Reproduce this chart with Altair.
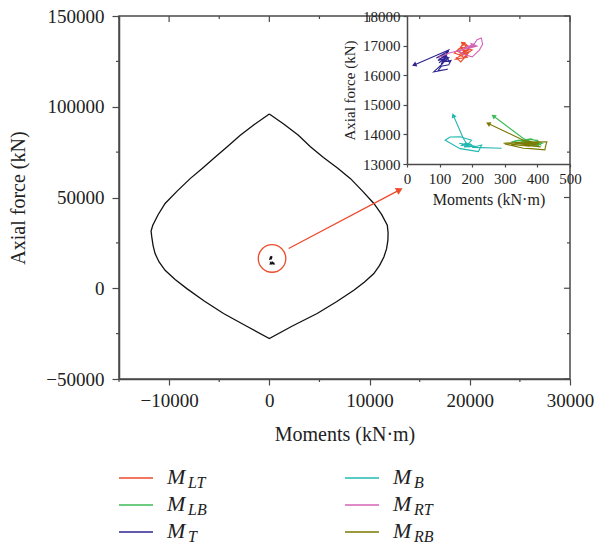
import math
import altair as alt
import pandas as pd

# ---------------- data ----------------
series = ["M_LT", "M_LB", "M_T", "M_B", "M_RT", "M_RB"]
subs = ["LT", "LB", "T", "B", "RT", "RB"]
colors = ["#EE4A2C", "#3DBB55", "#2E2590", "#22B8B0", "#D464B8", "#7B7900"]

# interaction envelope (kN·m, kN)
env_x = [0, -1500, -2900, -4200, -5450, -6700, -7900, -9200, -10400, -11100, -11630, -11800,
         -11730, -11600, -11400, -11000, -10400, -9400, -8230, -6500, -4570, -2300, 0,
         2300, 4770, 6700, 8430, 9500, 10430, 11000, 11430, 11700, 11830, 11850, 11770,
         11200, 10430, 9300, 8100, 6800, 5400, 4100, 2900, 1500, 0]
env_y = [96000, 90200, 84300, 78000, 72000, 66000, 60400, 53500, 46700, 40500, 34700, 31500,
         28300, 23500, 19100, 14500, 9900, 4800, -200, -7000, -13900, -20800, -27700,
         -20800, -13900, -7400, -1100, 3500, 8100, 12600, 17200, 21800, 26400, 30500, 34700,
         40700, 46700, 53500, 60400, 66200, 72000, 78000, 84300, 90200, 96000]

# load paths (Moment kN·m, Axial kN)
MLT_x = [150, 165, 185, 172, 195, 160, 145, 170, 190, 175, 155, 180, 200, 165, 185, 150,
         178, 192, 160, 175, 188, 168, 182, 170]
MLT_y = [16600, 16450, 16700, 16850, 16800, 16900, 16750, 16650, 16950, 17100, 16800, 16700,
         16850, 16950, 16600, 16550, 16780, 16900, 16700, 16600, 16750, 16880, 16980, 17080]
MLB_x = [330, 370, 400, 410, 360, 320, 380, 415, 390, 350, 400, 372, 395, 340, 385, 405,
         365, 390, 357, 265]
MLB_y = [13780, 13830, 13800, 13650, 13700, 13750, 13850, 13700, 13600, 13780, 13720, 13760,
         13680, 13800, 13740, 13620, 13790, 13700, 13862, 14620]
MT_x = [120, 112, 135, 128, 105, 95, 125, 82, 110, 120, 100, 130, 118, 90, 128, 108, 115,
        98, 125, 112, 105, 130, 95, 118, 128, 22]
MT_y = [16600, 16450, 16500, 16350, 16300, 16150, 16200, 16110, 16400, 16650, 16550, 16450,
        16700, 16580, 16820, 16480, 16560, 16420, 16620, 16520, 16380, 16600, 16500, 16680,
        16850, 16346]
MB_x = [290, 200, 229, 219, 163, 117, 132, 163, 198, 185, 160, 210, 175, 195, 165, 180, 188,
        170, 200, 178, 192, 168, 185, 173, 142]
MB_y = [13530, 13560, 13640, 13420, 13520, 13800, 13910, 13920, 13800, 13650, 13700, 13600,
        13580, 13680, 13620, 13700, 13600, 13660, 13640, 13720, 13570, 13680, 13650, 13862,
        14644]
MRT_x = [96, 130, 165, 200, 215, 228, 232, 222, 200, 175, 160, 185, 205, 190, 210, 180, 200,
         195, 215, 188, 205, 198]
MRT_y = [16600, 16750, 16850, 16950, 17200, 17260, 17050, 16850, 16620, 16700, 16800, 16950,
         17050, 16900, 17000, 16950, 17020, 17080, 16980, 16900, 17060, 16980]
MRB_x = [296, 360, 429, 425, 423, 380, 357, 300, 340, 400, 380, 330, 410, 360, 395, 320, 375,
         405, 357, 249]
MRB_y = [13700, 13740, 13750, 13600, 13480, 13520, 13530, 13680, 13720, 13650, 13760, 13700,
         13580, 13640, 13720, 13660, 13600, 13700, 13805, 14366]

paths_x = [MLT_x, MLB_x, MT_x, MB_x, MRT_x, MRB_x]
paths_y = [MLT_y, MLB_y, MT_y, MB_y, MRT_y, MRB_y]
arrow_series = ["M_LT", "M_LB", "M_T", "M_B", "M_RB"]

# main-plot annotation
circle_x, circle_y = [270], [16400]
arrow_x0, arrow_y0, arrow_x1, arrow_y1 = 1930, 21900, 13000, 54200

main_x_major = [-10000, 0, 10000, 20000, 30000]
main_x_minor = [-15000, -5000, 5000, 15000, 25000]
main_y_major = [-50000, 0, 50000, 100000, 150000]
main_y_minor = [-25000, 25000, 75000, 125000]
inset_x_ticks = [0, 100, 200, 300, 400, 500]
inset_y_ticks = [13000, 14000, 15000, 16000, 17000, 18000]

# ---------------- layout constants ----------------
W, H = 451, 363
IX0, IX1, IY0, IY1 = 288, 451, 148, 0
FONT = "Liberation Serif"
FRAME = "#4a4a4a"
M_SX, M_SY = W / 45000, H / 200000
I_SX, I_SY = (IX1 - IX0) / 500, (IY0 - IY1) / 5000


def head_angle(x0, y0, x1, y1, sx, sy):
    dx = (x1 - x0) * sx
    dy = -(y1 - y0) * sy
    return math.degrees(math.atan2(dx, -dy)) % 360


rows = []
heads = []
for s, xs, ys in zip(series, paths_x, paths_y):
    for i, (a, b) in enumerate(zip(xs, ys)):
        rows.append({"series": s, "x": a, "y": b, "i": i})
    if s in arrow_series:
        heads.append({"series": s, "x": xs[-1], "y": ys[-1],
                      "ang": head_angle(xs[-2], ys[-2], xs[-1], ys[-1], I_SX, I_SY)})
paths = pd.DataFrame(rows)
heads = pd.DataFrame(heads)
env = pd.DataFrame({"x": env_x, "y": env_y, "o": list(range(len(env_x)))})

color_scale = alt.Scale(domain=series, range=colors)

# ---------------- main plot ----------------
mx = alt.Scale(domain=[-15000, 30000], nice=False, zero=False)
my = alt.Scale(domain=[-50000, 150000], nice=False, zero=False)
x_axis = alt.Axis(values=main_x_major, format="d", title="Moments (kN·m)", tickSize=6,
                  labelPadding=6, labelFontSize=19, titleFontSize=20, titlePadding=14,
                  labelFlush=False)
y_axis = alt.Axis(values=main_y_major, format="d", title="Axial force (kN)", tickSize=7,
                  labelPadding=8, labelFontSize=19, titleFontSize=20, titlePadding=17)

envelope = alt.Chart(env).mark_line(color="#111111", strokeWidth=1.3).encode(
    x=alt.X("x:Q", scale=mx, axis=x_axis),
    y=alt.Y("y:Q", scale=my, axis=y_axis),
    order="o:Q",
)
dots = alt.Chart(paths).mark_line(color="#111111", strokeWidth=1.3).encode(
    x=alt.X("x:Q", scale=mx), y=alt.Y("y:Q", scale=my), detail="series:N", order="i:Q"
)
circle = alt.Chart(pd.DataFrame({"x": circle_x, "y": circle_y})).mark_point(
    shape="circle", size=760, filled=False, color="#EE4A2C", strokeWidth=1.3, opacity=1
).encode(x=alt.X("x:Q", scale=mx), y=alt.Y("y:Q", scale=my))
arrow_df = pd.DataFrame({"x": [arrow_x0], "y": [arrow_y0], "x2": [arrow_x1], "y2": [arrow_y1],
                         "ang": [head_angle(arrow_x0, arrow_y0, arrow_x1, arrow_y1, M_SX, M_SY)]})
arrow_line = alt.Chart(arrow_df).mark_rule(color="#EE4A2C", strokeWidth=1.3).encode(
    x=alt.X("x:Q", scale=mx), y=alt.Y("y:Q", scale=my), x2="x2:Q", y2="y2:Q"
)
arrow_head = alt.Chart(arrow_df).mark_point(shape="triangle-up", filled=True, size=60,
                                            color="#EE4A2C", opacity=1).encode(
    x=alt.X("x2:Q", scale=mx), y=alt.Y("y2:Q", scale=my), angle=alt.Angle("ang:Q", scale=None)
)

xmaj = pd.DataFrame({"v": main_x_major})
xmin = pd.DataFrame({"v": main_x_minor})
ymaj = pd.DataFrame({"v": main_y_major})
ymin = pd.DataFrame({"v": main_y_minor})
tick_style = dict(color=FRAME, strokeWidth=1.2)
ticks = [
    alt.Chart(xmin).mark_rule(**tick_style).encode(x=alt.X("v:Q", scale=mx), y=alt.value(H), y2=alt.value(H + 3)),
    alt.Chart(xmaj).mark_rule(**tick_style).encode(x=alt.X("v:Q", scale=mx), y=alt.value(0), y2=alt.value(6)),
    alt.Chart(xmin).mark_rule(**tick_style).encode(x=alt.X("v:Q", scale=mx), y=alt.value(0), y2=alt.value(3)),
    alt.Chart(ymin).mark_rule(**tick_style).encode(y=alt.Y("v:Q", scale=my), x=alt.value(-3), x2=alt.value(0)),
    alt.Chart(ymaj).mark_rule(**tick_style).encode(y=alt.Y("v:Q", scale=my), x=alt.value(W - 6), x2=alt.value(W)),
    alt.Chart(ymin).mark_rule(**tick_style).encode(y=alt.Y("v:Q", scale=my), x=alt.value(W - 3), x2=alt.value(W)),
]

# legend (drawn below the plot)
leg = pd.DataFrame({"series": series, "sub": subs, "k": list(range(6))})
leg["lx0"] = [0 if k < 3 else 226 for k in leg["k"]]
leg["lx1"] = leg["lx0"] + 34
leg["ly"] = [462 + (k % 3) * 27 for k in leg["k"]]
leg["mx"] = leg["lx0"] + 48
leg["my"] = leg["ly"] + 6
leg["sx"] = leg["lx0"] + 69
leg["sy"] = leg["ly"] + 10
leg["M"] = "M"
leg_lines = alt.Chart(leg).mark_rule(strokeWidth=1.3).encode(
    x=alt.X("lx0:Q", scale=None, axis=None), x2="lx1:Q", y=alt.Y("ly:Q", scale=None, axis=None),
    color=alt.Color("series:N", scale=color_scale, legend=None),
)
leg_m = alt.Chart(leg).mark_text(align="left", baseline="alphabetic", font=FONT, fontStyle="italic",
                                 fontSize=22, color="#222222").encode(
    x=alt.X("mx:Q", scale=None, axis=None), y=alt.Y("my:Q", scale=None, axis=None), text="M:N"
)
leg_s = alt.Chart(leg).mark_text(align="left", baseline="alphabetic", font=FONT, fontStyle="italic",
                                 fontSize=16, color="#222222").encode(
    x=alt.X("sx:Q", scale=None, axis=None), y=alt.Y("sy:Q", scale=None, axis=None), text="sub:N"
)

main = alt.layer(envelope, dots, circle, arrow_line, arrow_head, *ticks, leg_lines, leg_m, leg_s)

# ---------------- inset ----------------
ix = alt.Scale(domain=[0, 500], range=[IX0, IX1], nice=False, zero=False)
iy = alt.Scale(domain=[13000, 18000], range=[IY0, IY1], nice=False, zero=False)
ix_axis = alt.Axis(orient="bottom", offset=-(H - IY0), values=inset_x_ticks, format="d",
                   title="Moments (kN·m)", tickSize=3, labelPadding=4, labelFontSize=15,
                   titleFontSize=16, titlePadding=5, labelFlush=False)
iy_axis = alt.Axis(orient="left", offset=-IX0, values=inset_y_ticks, format="d",
                   title="Axial force (kN)", tickSize=4, labelPadding=3, labelFontSize=15,
                   titleFontSize=15, titlePadding=5)
inset_lines = alt.Chart(paths).mark_line(strokeWidth=1.1).encode(
    x=alt.X("x:Q", scale=ix, axis=ix_axis),
    y=alt.Y("y:Q", scale=iy, axis=iy_axis),
    color=alt.Color("series:N", scale=color_scale, legend=None),
    detail="series:N",
    order="i:Q",
)
inset_heads = alt.Chart(heads).mark_point(shape="triangle-up", filled=True, size=28, opacity=1).encode(
    x=alt.X("x:Q", scale=ix), y=alt.Y("y:Q", scale=iy),
    color=alt.Color("series:N", scale=color_scale, legend=None),
    angle=alt.Angle("ang:Q", scale=None),
)
inset = alt.layer(inset_lines, inset_heads)

chart = (
    alt.layer(main, inset)
    .resolve_scale(x="independent", y="independent")
    .properties(width=W, height=H, padding={"left": 119, "top": 16, "right": 27, "bottom": 169},
                autosize=alt.AutoSizeParams(type="none"), background="white")
    .configure_view(stroke=FRAME, strokeWidth=1.5)
    .configure_axis(grid=False, domainColor=FRAME, domainWidth=1.5, tickColor=FRAME, tickWidth=1.2,
                    labelColor="#222222", titleColor="#222222", labelFont=FONT, titleFont=FONT,
                    titleFontWeight="normal")
)

chart.save("out.html", embed_options={"renderer": "svg", "actions": False})
